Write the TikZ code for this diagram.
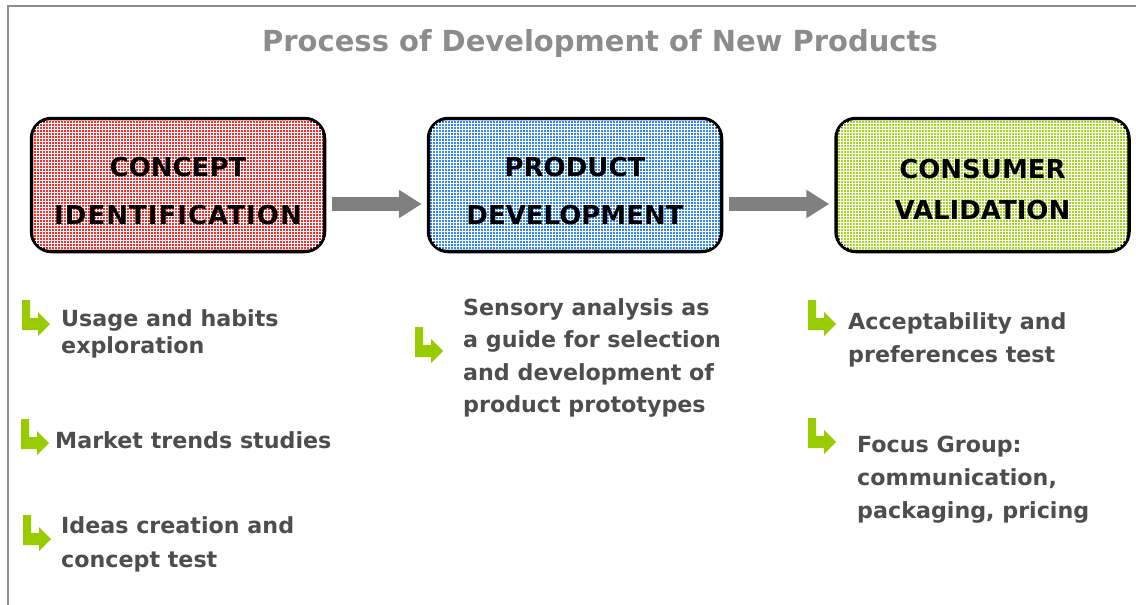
\documentclass[tikz,border=0pt]{standalone}
\usepackage{fontspec}
\setmainfont{DejaVu Sans}
\usetikzlibrary{arrows.meta}
\definecolor{framegray}{HTML}{8C8C8C}
\definecolor{titlegray}{HTML}{8C8C8C}
\definecolor{textgray}{HTML}{4D4D4D}
\definecolor{arrowgray}{HTML}{808080}
\definecolor{lgreen}{HTML}{99CC00}
\definecolor{boxred}{HTML}{FF2C2C}
\definecolor{boxblue}{HTML}{3388FF}
\definecolor{boxgreen}{HTML}{A2D81C}
\begin{document}
\begin{tikzpicture}[x=1pt,y=-1pt,
  stagebox/.style={draw=black, line width=3.5pt, rounded corners=20pt,
    minimum width=293pt, minimum height=133pt, inner sep=0pt},
  meshline/.style={draw=white, line width=0.9pt, step=3pt},
  stagetext/.style={align=center, inner sep=0pt, text=black,
    font=\fontsize{26}{48}\selectfont\bfseries},
  itemtext/.style={align=left, inner sep=0pt, text=textgray, anchor=north west},
  flowarrow/.style={draw=arrowgray, line width=14pt,
    -{Triangle[width=27pt,length=23pt]}, shorten <=6pt, shorten >=5pt},
  lbullet/.pic={\fill[lgreen] (0,0) -- (8,0) -- (8,18) -- (16,18) -- (16,12)
    -- (28,24) -- (16,36) -- (16,30) -- (0,30) -- cycle;}
]
\useasboundingbox (0,0) rectangle (1136,605);
% frame
\draw[framegray, line width=2pt] (8,605) -- (8,6) -- (1136,6);
% title
\node[anchor=base, inner sep=0pt, text=titlegray,
  font=\fontsize{29}{34}\selectfont\bfseries] (title) at (600,51)
  {Process of Development of New Products};
% stage boxes
\node[stagebox, fill=boxred] (b1) at (178,185) {};
\node[stagebox, fill=boxblue] (b2) at (575,185) {};
\node[stagebox, fill=boxgreen] (b3) at (982.5,185) {};
\foreach \b in {b1,b2,b3}{
  \begin{scope}
    \clip[rounded corners=16pt] ([shift={(3.6pt,-3.6pt)}]\b.north west)
      rectangle ([shift={(-3.6pt,3.6pt)}]\b.south east);
    \draw[meshline] (\b.south west) grid (\b.north east);
  \end{scope}
}
\node[stagetext] (t1) at ([yshift=-6pt]b1.center)
  {CONCEPT\\{\addfontfeature{LetterSpace=4}IDENTIFICATION}};
\node[stagetext] (t2) at ([yshift=-6pt]b2.center) {PRODUCT\\DEVELOPMENT};
\node[stagetext, font=\fontsize{26}{41}\selectfont\bfseries] (t3)
  at ([yshift=-4.5pt]b3.center) {CONSUMER\\VALIDATION};
% flow arrows
\draw[flowarrow] ([yshift=-19pt]b1.east) -- ([yshift=-19pt]b2.west);
\draw[flowarrow] ([yshift=-19pt]b2.east) -- ([yshift=-19pt]b3.west);
% bullets
\pic at (22,300) {lbullet};
\pic at (21,419) {lbullet};
\pic at (23,515) {lbullet};
\pic at (415,327) {lbullet};
\pic at (808,300) {lbullet};
\pic at (808,418) {lbullet};
% item texts
\node[itemtext, font=\fontsize{22.2}{27}\selectfont\bfseries] (i1) at (61,309.2)
  {Usage and habits\\exploration};
\node[itemtext, anchor=base west, font=\fontsize{22.2}{27}\selectfont\bfseries] (i2) at (55,448)
  {Market trends studies};
\node[itemtext, font=\fontsize{22.2}{34}\selectfont\bfseries] (i3) at (61,516.2)
  {Ideas creation and\\concept test};
\node[itemtext, font=\fontsize{22.2}{32.5}\selectfont\bfseries] (i4) at (463,298.2)
  {Sensory analysis as\\a guide for selection\\and development of\\product prototypes};
\node[itemtext, font=\fontsize{22.2}{33}\selectfont\bfseries] (i5) at (848,312.2)
  {Acceptability and\\preferences test};
\node[itemtext, font=\fontsize{22.2}{33}\selectfont\bfseries] (i6) at (857,435.8)
  {Focus Group:\\communication,\\packaging, pricing};
\end{tikzpicture}
\end{document}
